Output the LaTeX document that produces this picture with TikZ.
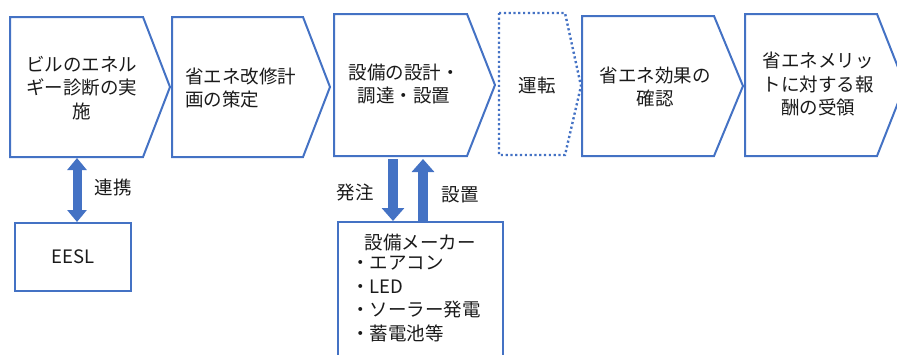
\documentclass[tikz,border=0pt]{standalone}
\usepackage{fontspec}
\setmainfont{Noto Sans CJK JP}
\usetikzlibrary{arrows.meta}
\definecolor{bl}{HTML}{4472C4}
\definecolor{txt}{HTML}{1A1A1A}
\begin{document}
\begin{tikzpicture}[x=1pt,y=-1pt,
  stage/.style={draw=bl, line width=2pt, line join=miter},
  dotstage/.style={draw=bl, line width=2.4pt, dash pattern=on 2.2pt off 2.6pt},
  lbl/.style={font=\fontsize{18.5}{23.5}\selectfont, text=txt, inner sep=0pt, align=center},
  boxnode/.style={draw=bl, line width=2pt, inner sep=0pt},
  barrow/.style={draw=bl, line width=10pt, -{Triangle[width=22pt,length=13pt,fill=bl]}},
  dbarrow/.style={draw=bl, line width=9pt, {Triangle[width=19pt,length=12pt,fill=bl]}-{Triangle[width=19pt,length=12pt,fill=bl]}}]
\useasboundingbox (0,0) rectangle (897,354);
% stages
\draw[stage] (10,17) -- (143,17) -- (170,87) -- (143,157) -- (10,157) -- cycle;
\draw[stage] (172,17) -- (303,17) -- (330,87) -- (303,157) -- (172,157) -- cycle;
\draw[stage] (334,14) -- (467,14) -- (495,85) -- (467,156) -- (334,156) -- cycle;
\draw[dotstage] (499,13) -- (565,13) -- (581,86) -- (565,155) -- (499,155) -- cycle;
\draw[stage] (582,16) -- (714,16) -- (743,86) -- (714,156) -- (582,156) -- cycle;
\draw[stage] (745,14) -- (877,14) -- (905,85) -- (877,156) -- (745,156) -- cycle;
% stage texts
\node[lbl] (t1) at (82,88) {ビルのエネル\\ギー診断の実\\施};
\node[lbl, anchor=west, align=left] (t2) at (185,88) {省エネ改修計\\画の策定};
\node[lbl] (t3) at (404,84) {設備の設計・\\調達・設置};
\node[lbl] (t4) at (537,85) {運転};
\node[lbl] (t5) at (655,87) {省エネ効果の\\確認};
\node[lbl] (t6) at (818,84) {省エネメリッ\\トに対する報\\酬の受領};
% lower boxes
\node[boxnode, minimum width=116pt, minimum height=68pt] (eesl) at (73,257) {};
\node[lbl] (eesltxt) at (eesl.center) {EESL};
\node[boxnode, minimum width=165pt, minimum height=150pt] (maker) at (420.5,297) {};
\node[lbl] (makertitle) at (420,243) {設備メーカー};
\node[lbl, anchor=north west, align=left] (makerlist) at (351,256) {・エアコン\\・LED\\・ソーラー発電\\・蓄電池等};
% connectors
\coordinate (s1) at (77,158);
\coordinate (s3a) at (393,159);
\coordinate (s3b) at (423,159);
\draw[dbarrow] (s1) -- (s1 |- eesl.north);
\draw[barrow] (s3a) -- (s3a |- maker.north);
\draw[barrow] (s3b |- maker.north) -- (s3b);
% labels
\node[lbl] (l1) at (113,187) {連携};
\node[lbl] (l2) at (355,192) {発注};
\node[lbl] (l3) at (460,195) {設置};
\end{tikzpicture}
\end{document}
